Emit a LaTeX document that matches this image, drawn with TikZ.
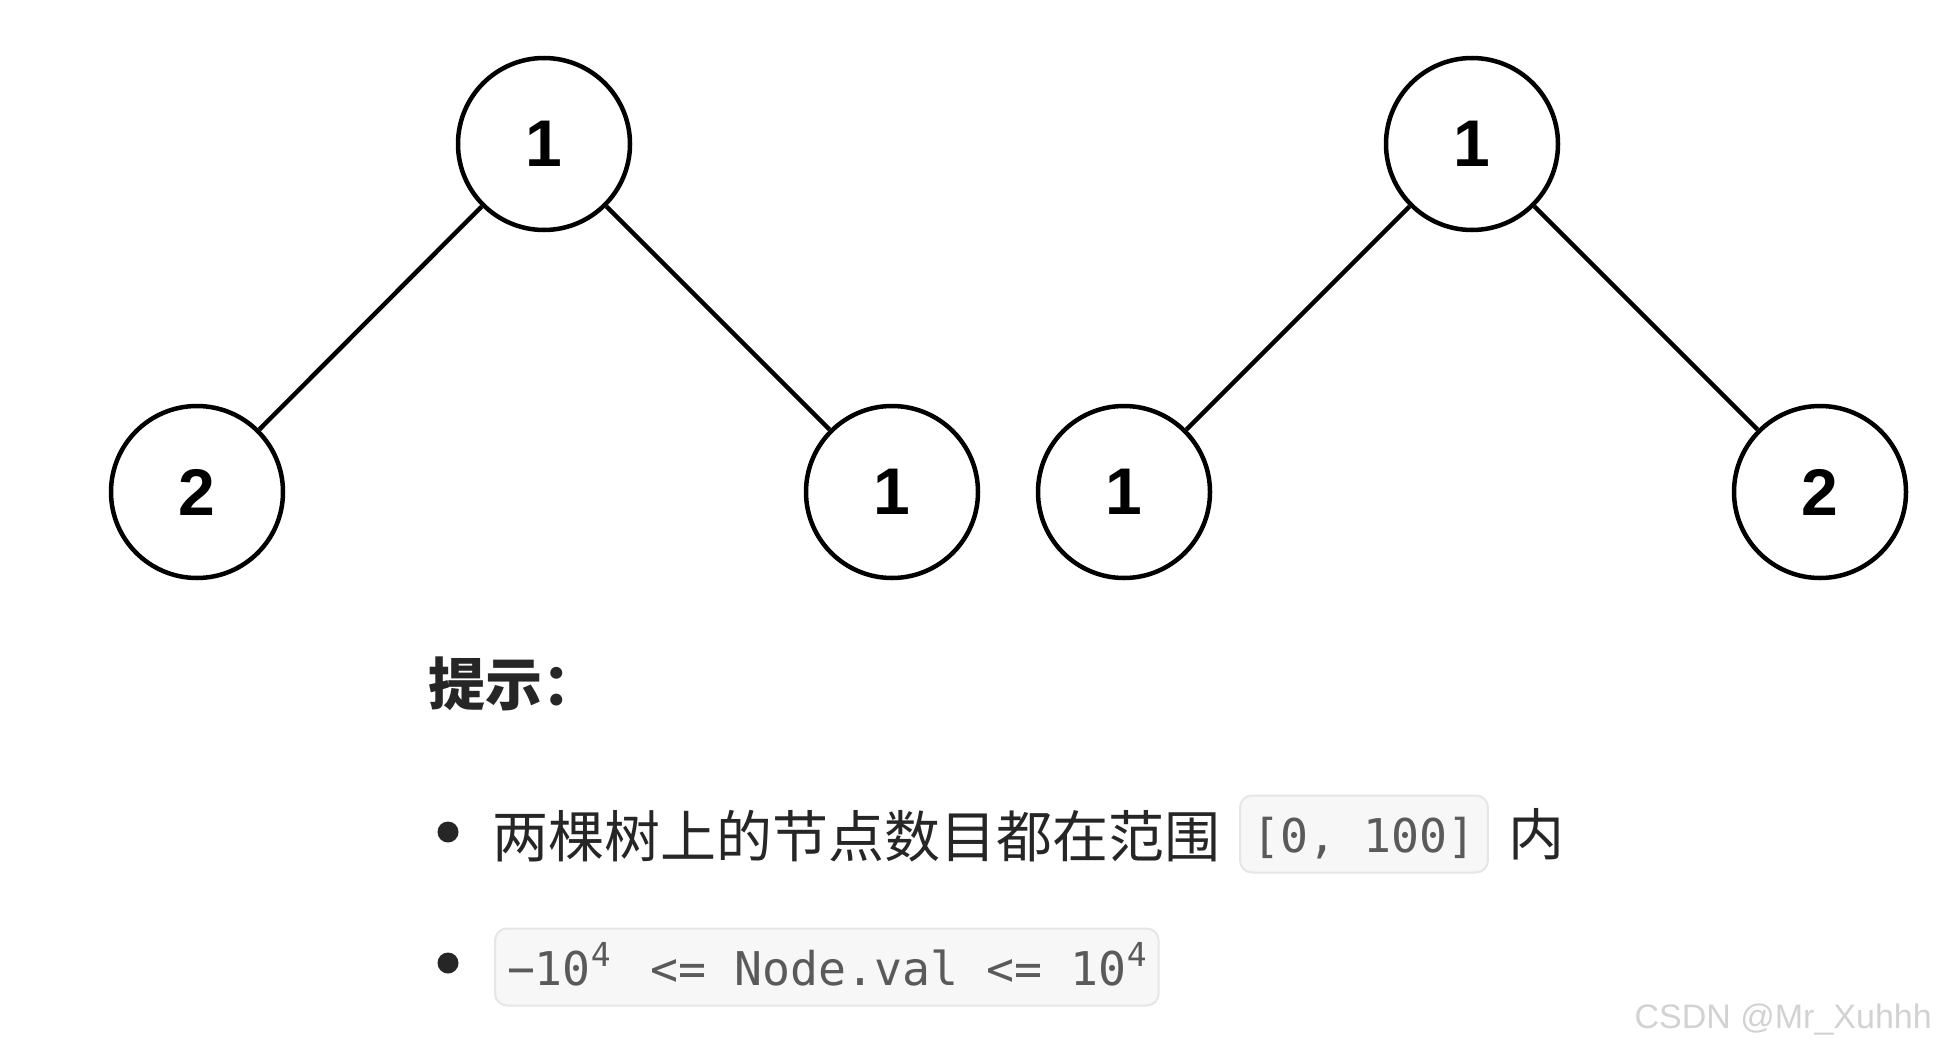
\documentclass[tikz,border=0pt]{standalone}
\usepackage{fontspec}
\setmainfont{Liberation Sans}
\newfontfamily\cjk{Noto Sans CJK SC}
\newfontfamily\codefont{DejaVu Sans Mono}
\usetikzlibrary{positioning}
\definecolor{txt}{HTML}{262626}
\definecolor{codebg}{HTML}{F7F7F7}
\definecolor{codeline}{HTML}{E6E6E6}
\definecolor{codetext}{HTML}{5A5A5A}
\definecolor{mark}{HTML}{D2D2D2}
% raised small digit inside code
\newcommand{\codesup}[1]{\raisebox{19pt}{\fontsize{33}{33}\selectfont #1}\hspace{12pt}}

\begin{document}
\begin{tikzpicture}[x=1pt, y=-1pt,
        knot/.style={circle, draw, line width=4.5pt, minimum size=172pt, inner sep=0pt,
            font=\bfseries\fontsize{66}{66}\selectfont},
        edge/.style={line width=4.5pt},
        dot/.style={circle, fill=txt, minimum size=21pt, inner sep=0pt},
        cn/.style={anchor=west, inner sep=0pt, text=txt, font=\cjk\fontsize{56}{56}\selectfont},
        codebox/.style={anchor=west, draw=codeline, fill=codebg, line width=2pt,
            rounded corners=12pt, minimum height=77pt, inner xsep=12pt,
            text height=36pt, text depth=0pt, text=codetext,
            font=\codefont\fontsize{46.5}{46.5}\selectfont}]
        \useasboundingbox (0,0) rectangle (1936,1052);

        % first tree
        \node[knot] (A) at (544,144) {1};
        \node[knot] (B) at (197,492) {2};
        \node[knot] (C) at (892,492) {1};
        \draw[edge] (A) -- (B);
        \draw[edge] (A) -- (C);

        % second tree
        \node[knot] (D) at (1472,144) {1};
        \node[knot] (E) at (1124,492) {1};
        \node[knot] (F) at (1820,492) {2};
        \draw[edge] (D) -- (E);
        \draw[edge] (D) -- (F);

        % hints
        \node[cn, font=\cjk\bfseries\fontsize{57}{57}\selectfont] (H) at (428,684) {提示：};

        \node[dot] (P1) at (448,832) {};
        \node[codebox] (K1) at (1239,834) {[0, 100]};
        \node[cn, anchor=east] (T1) at ([xshift=-18pt, yshift=-2pt]K1.west) {两棵树上的节点数目都在范围};
        \node[cn, right=19pt of K1] (T2) {内};

        \node[dot] (P2) at (448,963) {};
        \node[codebox] (K2) at (494,967)
            {−10\codesup{4} <= Node.val <= 10\codesup{4}};

        \node[anchor=east, inner sep=0pt, text=mark, font=\fontsize{34}{34}\selectfont] (W)
            at (1932,1020) {CSDN @Mr\_Xuhhh};
    \end{tikzpicture}
\end{document}
